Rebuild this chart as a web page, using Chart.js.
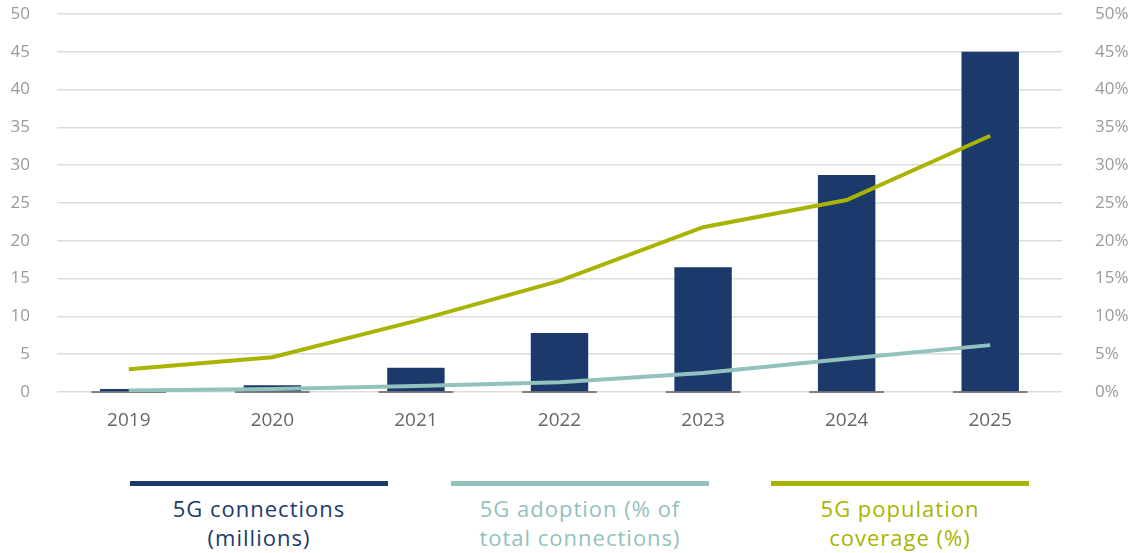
<!DOCTYPE html>
<html>
<head>
<meta charset="utf-8">
<script src="https://cdn.jsdelivr.net/npm/chart.js@4.4.0/dist/chart.umd.min.js"></script>
<style>
    html, body { margin: 0; padding: 0; background: #fff; overflow: hidden; }
    #wrap { position: relative; width: 1129px; height: 440px; }
    #legend { position: relative; width: 1129px; height: 113px; font-family: "Open Sans", "Noto Sans", sans-serif; }
    .item { position: absolute; top: 41px; width: 258px; text-align: center; font-size: 22px; font-weight: 500; line-height: 29px; letter-spacing: 1px; white-space: nowrap; }
    .item .bar { height: 5px; margin-bottom: 8px; }
</style>
</head>
<body>
<div id="wrap"><canvas id="chart" width="1129" height="440"></canvas></div>
<div id="legend">
    <div class="item" style="left:130px;color:#1b3a6b"><div class="bar" style="background:#1b3a6b"></div>5G connections<br>(millions)</div>
    <div class="item" style="left:451px;color:#93c1bd"><div class="bar" style="background:#93c1bd"></div>5G adoption (% of<br>total connections)</div>
    <div class="item" style="left:771px;color:#a9b400"><div class="bar" style="background:#a9b400"></div>5G population<br>coverage (%)</div>
</div>
<script>
const years = ['2019', '2020', '2021', '2022', '2023', '2024', '2025'];
const connections = [0.4, 0.9, 3.2, 7.8, 16.5, 28.7, 45];
const adoption = [0.2, 0.4, 0.8, 1.3, 2.5, 4.4, 6.2];
const coverage = [3.0, 4.6, 9.4, 14.7, 21.8, 25.4, 33.9];

const navy = '#1b3a6b';
const teal = '#93c1bd';
const green = '#a9b400';
const yFont = { family: '"Open Sans", "Noto Sans", sans-serif', size: 17 };
const xFont = { family: '"Open Sans", "Noto Sans", sans-serif', size: 19 };

// short gray base segments under each category
const baseSegments = {
    id: 'baseSegments',
    beforeDatasetsDraw(chart) {
        const ctx = chart.ctx;
        const x = chart.scales.x;
        const y0 = chart.scales.y.getPixelForValue(0);
        const half = (x.width / years.length) * 0.26;
        ctx.save();
        ctx.strokeStyle = '#808080';
        ctx.lineWidth = 2;
        for (let i = 0; i < years.length; ++i) {
            const cx = x.getPixelForValue(i);
            ctx.beginPath();
            ctx.moveTo(cx - half, y0);
            ctx.lineTo(cx + half, y0);
            ctx.stroke();
        }
        ctx.restore();
    }
};

// tick padding on a vertical axis also pads its top; undo that
function fitSide(width) {
    return scale => {
        scale.width = width;
        scale.paddingTop = 10;
        scale.paddingBottom = 0;
    };
}

new Chart(document.getElementById('chart'), {
    data: {
        labels: years,
        datasets: [
            {
                type: 'line',
                label: '5G population coverage (%)',
                data: coverage,
                yAxisID: 'y2',
                borderColor: green,
                borderWidth: 4,
                pointRadius: 0,
                tension: 0,
                order: 0
            },
            {
                type: 'line',
                label: '5G adoption (% of total connections)',
                data: adoption,
                yAxisID: 'y2',
                borderColor: teal,
                borderWidth: 4,
                pointRadius: 0,
                tension: 0,
                order: 1
            },
            {
                type: 'bar',
                label: '5G connections (millions)',
                data: connections,
                yAxisID: 'y',
                backgroundColor: navy,
                barPercentage: 0.4,
                categoryPercentage: 1,
                order: 2
            }
        ]
    },
    plugins: [baseSegments],
    options: {
        responsive: false,
        animation: false,
        layout: { padding: { top: 14, left: 0, right: 0, bottom: 0 } },
        plugins: {
            legend: { display: false },
            tooltip: { enabled: false }
        },
        scales: {
            x: {
                grid: { display: false },
                border: { display: false },
                ticks: { color: '#666666', font: xFont, padding: 9, maxRotation: 0, autoSkip: false },
                afterFit(scale) { scale.height = 440 - 392; }
            },
            y: {
                position: 'left',
                min: 0,
                max: 50,
                ticks: { stepSize: 5, color: '#9a9a9a', font: yFont, padding: 27, autoSkip: false },
                grid: { color: '#dcdcdc', lineWidth: 1.5, drawTicks: false },
                border: { display: false },
                afterFit: fitSide(57)
            },
            y2: {
                position: 'right',
                min: 0,
                max: 50,
                ticks: { stepSize: 5, color: '#9a9a9a', font: yFont, padding: 25, autoSkip: false, callback: v => v + '%' },
                grid: { display: false },
                border: { display: false },
                afterFit: fitSide(67)
            }
        }
    }
});
</script>
</body>
</html>
